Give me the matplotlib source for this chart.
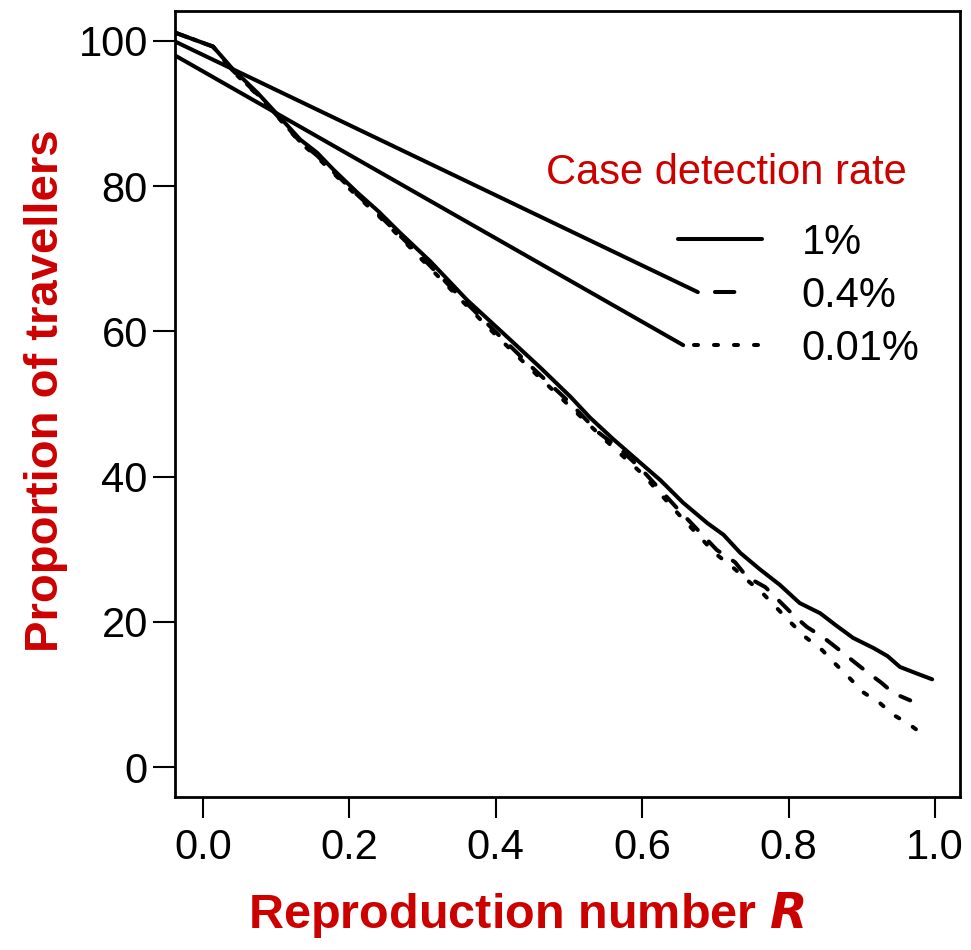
import matplotlib
matplotlib.use("Agg")
import matplotlib.pyplot as plt
from matplotlib.lines import Line2D

plt.rcParams["font.family"] = ["Liberation Sans", "DejaVu Sans"]
plt.rcParams["lines.scale_dashes"] = False

# data
r_1pct = [-0.04, 0.014, 0.04, 0.075, 0.105, 0.133, 0.156, 0.178, 0.211, 0.24, 0.269, 0.311,
          0.361, 0.416, 0.461, 0.502, 0.529, 0.56, 0.593, 0.625, 0.656, 0.689, 0.711, 0.734,
          0.76, 0.788, 0.815, 0.843, 0.865, 0.888, 0.916, 0.935, 0.952, 0.975, 0.996]
p_1pct = [101.2, 99.2, 96.2, 92.8, 89.5, 86.4, 84.6, 82.3, 79.1, 76.5, 73.6, 69.6,
          64.3, 59.2, 55.0, 51.0, 48.1, 45.2, 42.3, 39.5, 36.4, 33.6, 32.0, 29.5,
          27.3, 25.1, 22.6, 21.2, 19.5, 17.8, 16.4, 15.3, 13.8, 12.9, 12.1]

r_04pct = [-0.04, 0.014, 0.04, 0.075, 0.105, 0.133, 0.156, 0.178, 0.211, 0.24, 0.269, 0.30,
           0.35, 0.40, 0.45, 0.50, 0.54, 0.571, 0.60, 0.65, 0.702, 0.727, 0.743, 0.768,
           0.786, 0.807, 0.825, 0.847, 0.866, 0.887, 0.907, 0.927, 0.943, 0.966]
p_04pct = [101.2, 99.2, 96.0, 92.6, 89.3, 86.1, 84.2, 82.0, 78.8, 76.1, 73.2, 70.1,
           64.9, 59.9, 55.0, 50.3, 46.1, 43.7, 40.9, 35.4, 29.9, 28.2, 26.2, 24.8,
           23.0, 20.9, 19.3, 17.9, 16.4, 14.7, 13.1, 11.6, 10.2, 9.2]

r_001pct = [-0.04, 0.014, 0.04, 0.075, 0.105, 0.133, 0.156, 0.178, 0.211, 0.24, 0.269, 0.30,
            0.35, 0.40, 0.45, 0.50, 0.55, 0.60, 0.65, 0.70, 0.724, 0.744, 0.764, 0.783,
            0.802, 0.823, 0.846, 0.863, 0.882, 0.902, 0.925, 0.943, 0.962, 0.985]
p_001pct = [101.2, 99.2, 95.9, 92.5, 89.2, 86.0, 84.0, 81.8, 78.6, 75.9, 73.0, 69.8,
            64.6, 59.5, 54.6, 49.8, 45.0, 40.4, 34.8, 29.4, 27.5, 25.7, 24.0, 22.0,
            20.0, 17.9, 16.1, 14.3, 12.4, 10.3, 8.8, 7.2, 6.1, 4.4]

# stray straight segments running into the legend keys
stray_04_r = [-0.04, 0.676]
stray_04_p = [100.0, 65.4]
stray_001_r = [-0.04, 0.656]
stray_001_p = [98.1, 58.1]

labels = ["1%", "0.4%", "0.01%"]
x_ticks = [0.0, 0.2, 0.4, 0.6, 0.8, 1.0]
y_ticks = [0, 20, 40, 60, 80, 100]

red = "#CD0000"
lw = 2.9
dashed = (0, (10.8, 11.5))
dotted = (0, (2.9, 11.5))

fig = plt.figure(figsize=(9.71, 9.5), dpi=100)
ax = fig.add_axes([175 / 971, 1 - 797 / 950, 785 / 971, 786 / 950])

kw = dict(color="black", lw=lw, solid_capstyle="round", dash_capstyle="round",
          solid_joinstyle="round")
ax.plot(r_1pct, p_1pct, **kw)
ax.plot(r_04pct, p_04pct, linestyle=dashed, **kw)
ax.plot(r_001pct, p_001pct, linestyle=dotted, **kw)
ax.plot(stray_04_r, stray_04_p, **kw)
ax.plot(stray_001_r, stray_001_p, **kw)

ax.set_xlim(-0.038, 1.034)
ax.set_ylim(-4.1, 104.1)
ax.set_xticks(x_ticks)
ax.set_xticklabels([f"{v:.1f}" for v in x_ticks])
ax.set_yticks(y_ticks)
ax.tick_params(axis="y", length=16, width=1.5, pad=3.6, labelsize=30)
ax.tick_params(axis="x", length=15, width=1.5, pad=7, labelsize=30)
for s in ax.spines.values():
    s.set_linewidth(2)

ax.set_xlabel("Reproduction number $\\bfit{R}$", fontsize=35, fontweight="bold", color=red)
ax.xaxis.set_label_coords(0.448, -0.118)
ax.set_ylabel("Proportion of travellers", fontsize=34, fontweight="bold", color=red)
ax.yaxis.set_label_coords(-0.136, 0.5165)

# legend
handles = [
    Line2D([], [], color="black", lw=lw, solid_capstyle="round"),
    Line2D([], [], color="black", lw=lw, dash_capstyle="round", linestyle=(49.2, (14.0, 61.8))),
    Line2D([], [], color="black", lw=lw, dash_capstyle="round", linestyle=(2.9, (2.9, 11.5))),
]
ax.legend(handles, labels, loc="upper left", bbox_to_anchor=((678 - 175) / 785, (797 - 223) / 786),
          frameon=False, fontsize=30, handlelength=2.01, handletextpad=0.96,
          labelspacing=0.31, borderpad=0, borderaxespad=0)
ax.text((726 - 175) / 785, (797 - 173) / 786, "Case detection rate", transform=ax.transAxes,
        ha="center", va="center", fontsize=30, color=red)

fig.savefig("out.png", dpi=100)
